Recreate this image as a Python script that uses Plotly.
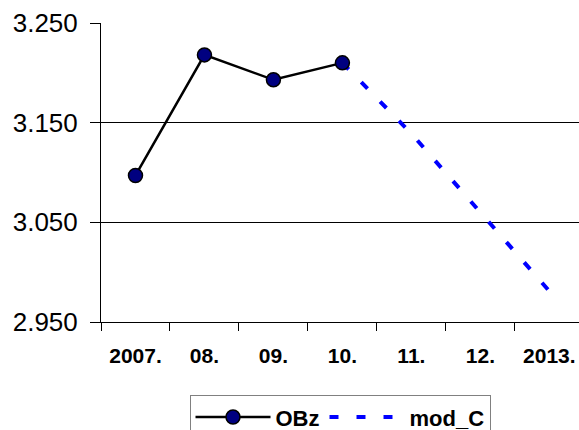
import plotly.graph_objects as go

categories = ["2007.", "08.", "09.", "10.", "11.", "12.", "2013."]
obz_values = [3097, 3218, 3193, 3210, None, None, None]
modc_values = [None, None, None, 3210, 3139, 3060, 2981]
y_ticks = [2950, 3050, 3150, 3250]

fig = go.Figure()
fig.add_trace(go.Scatter(
    x=categories, y=modc_values, name="mod_C", mode="lines",
    line=dict(color="#0000FF", width=4, dash="9px,18px"),
    legendrank=2, connectgaps=False,
))
fig.add_trace(go.Scatter(
    x=categories, y=obz_values, name="OBz", mode="lines+markers",
    line=dict(color="black", width=2.5),
    marker=dict(size=14, color="#000080", line=dict(color="black", width=1.5)),
    legendrank=1,
))

fig.update_layout(
    width=579, height=430,
    margin=dict(l=101, r=0, t=23, b=108, autoexpand=False),
    paper_bgcolor="white", plot_bgcolor="white",
    separators=",.",
    font=dict(family="Liberation Sans, Arial, sans-serif", color="black"),
    showlegend=True,
    legend=dict(
        orientation="h", x=0.5, xanchor="center", y=-0.245, yanchor="top",
        bordercolor="#808080", borderwidth=1,
        font=dict(size=22, family="Liberation Sans, Arial, sans-serif", weight="bold"),
        itemwidth=75, traceorder="normal",
    ),
)
fig.update_xaxes(
    type="category", categoryorder="array", categoryarray=categories,
    range=[-0.5, 6.43], automargin=False,
    showline=True, linecolor="black", linewidth=1,
    ticks="outside", tickson="boundaries", ticklen=8, tickcolor="black",
    showgrid=False, zeroline=False,
    tickfont=dict(size=21, weight="bold"),
    ticklabelstandoff=15,
)
fig.update_yaxes(
    range=[2950, 3250], tickvals=y_ticks, tickformat=",d", automargin=False,
    showline=True, linecolor="black", linewidth=1,
    ticks="outside", ticklen=10, tickcolor="black",
    showgrid=True, gridcolor="black", gridwidth=1, zeroline=False,
    tickfont=dict(size=26),
    ticklabelstandoff=7,
)

fig.write_html(
    "out.html",
    config={"displayModeBar": False},
    post_script="document.body.style.margin='0';document.body.style.overflow='hidden';",
)
